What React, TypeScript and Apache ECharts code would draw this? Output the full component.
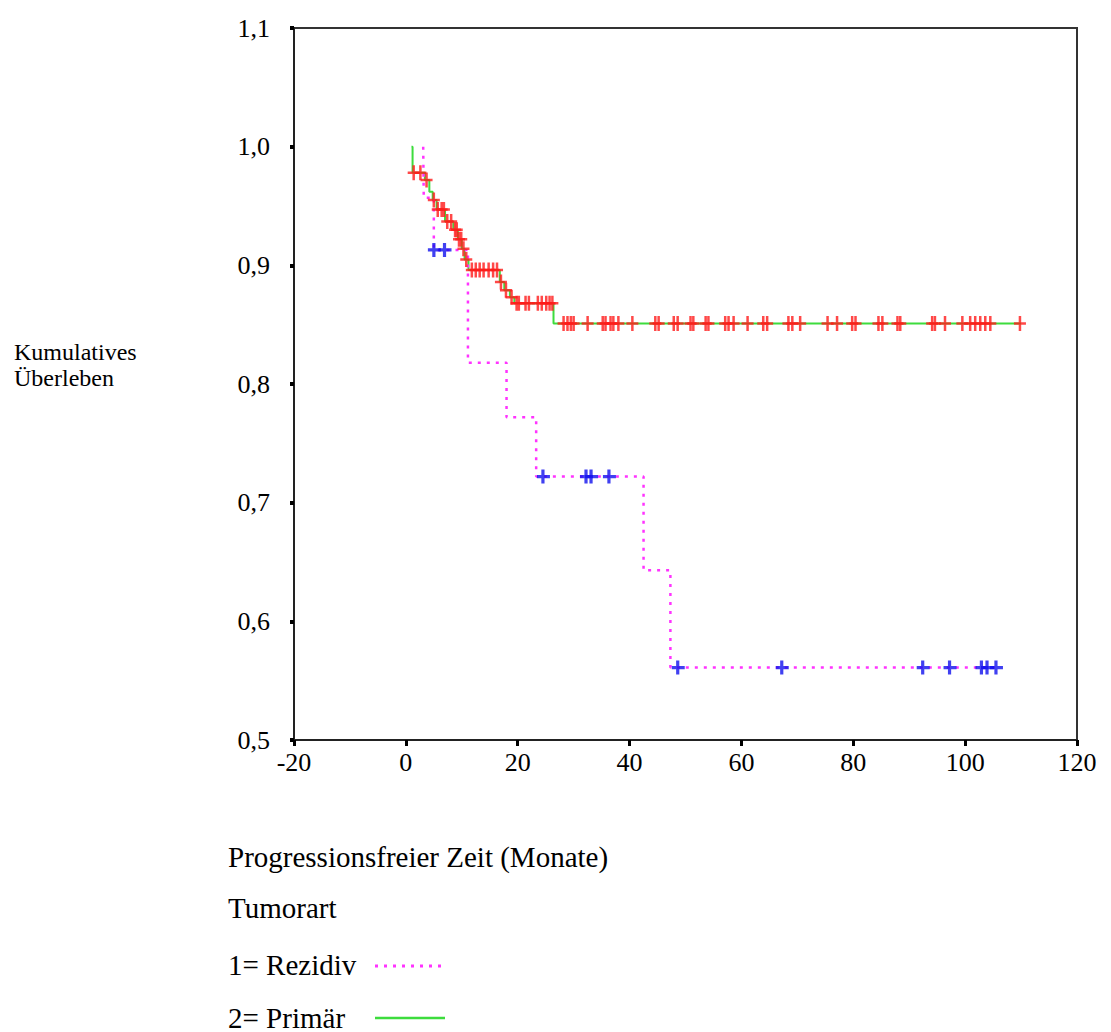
import React, { useEffect, useRef } from "react";
import * as echarts from "echarts";

// Kaplan-Meier step data
const primTimes = [1.0, 1.2, 3.4, 4.2, 4.8, 5.5, 7.0, 8.5, 9.3, 10.0, 10.5, 11.2, 16.8, 17.6, 18.6, 19.4, 26.4, 110];
const primSurv = [1.0, 0.978, 0.972, 0.962, 0.955, 0.947, 0.937, 0.93, 0.922, 0.914, 0.905, 0.896, 0.886, 0.879, 0.873, 0.868, 0.851, 0.851];
const primCensor = [
  1.4, 2.6, 3.7, 5.0, 5.7, 6.4, 6.8, 7.4, 8.1, 8.8, 9.1, 9.5, 9.9, 10.3, 10.8,
  11.8, 12.5, 13.2, 13.9, 14.8, 15.6, 16.3, 17.0, 17.9, 18.9, 19.8,
  20.2, 21.4, 22.0, 23.6, 24.3, 25.1, 25.7, 26.2,
  28.2, 28.9, 29.5, 30.0, 32.5, 35.2, 35.7, 36.6, 37.1, 38.0, 40.5, 44.6, 45.2,
  47.9, 48.6, 50.9, 51.4, 53.6, 54.1, 57.1, 57.7, 58.6, 61.1, 63.9, 64.6,
  68.4, 69.1, 70.5, 75.4, 77.1, 79.8, 80.4, 84.5, 85.2, 87.9, 88.4,
  94.1, 94.6, 96.4, 99.5, 100.9, 101.8, 102.7, 103.6, 104.5, 109.8,
];

const reziTimes = [3.1, 3.2, 5.0, 11.1, 18.0, 23.3, 42.5, 47.3, 105.6];
const reziSurv = [1.0, 0.957, 0.913, 0.818, 0.772, 0.722, 0.643, 0.561, 0.561];
const reziCensor = [5.1, 7.0, 24.6, 32.3, 33.2, 36.4, 48.7, 67.3, 92.5, 97.3, 103.0, 104.0, 105.6];

const xMin = -20;
const xMax = 120;
const xStep = 20;
const yMin = 0.5;
const yMax = 1.1;
const yStep = 0.1;

const legendLabels = ["1= Rezidiv", "2= Primär"];
const xTitle = "Progressionsfreier Zeit (Monate)";
const yTitle = "Kumulatives\nÜberleben";
const groupTitle = "Tumorart";

function stepAt(times: number[], surv: number[], t: number) {
  let v = surv[0];
  for (let i = 0; i < times.length; i++) {
    if (times[i] <= t) v = surv[i];
  }
  return v;
}

const FONT = "'Liberation Serif', 'Times New Roman', serif";
const PLUS_THIN = "path://M4.75,0H7.25V6.25H12V8.75H7.25V15H4.75V8.75H0V6.25H4.75Z";
const PLUS_BOLD = "path://M4.4,0H7.6V5.4H13V8.6H7.6V14H4.4V8.6H0V5.4H4.4Z";

export default function App() {
  const ref = useRef<HTMLDivElement>(null);
  useEffect(() => {
    if (!ref.current) return;
    const chart = echarts.init(ref.current, undefined, { renderer: "svg" });
    const primLine = primTimes.map((t, i) => [t, primSurv[i]]);
    const reziLine = reziTimes.map((t, i) => [t, reziSurv[i]]);
    const primMarks = primCensor.map((t) => [t, stepAt(primTimes, primSurv, t)]);
    const reziMarks = reziCensor.map((t) => [t, stepAt(reziTimes, reziSurv, t)]);
    const green = "#3ddc3d";
    const magenta = "#ff33ff";

    chart.setOption({
      animation: false,
      backgroundColor: "#ffffff",
      grid: {
        left: 294,
        top: 28,
        right: 34,
        bottom: 292,
        show: true,
        borderColor: "#333",
        borderWidth: 2,
      },
      xAxis: {
        type: "value",
        min: xMin,
        max: xMax,
        interval: xStep,
        splitLine: { show: false },
        axisLine: { onZero: false, lineStyle: { color: "#222", width: 2 } },
        axisTick: { length: 6, lineStyle: { color: "#000", width: 3 } },
        axisLabel: { color: "#000", fontFamily: FONT, fontSize: 26, margin: 9 },
      },
      yAxis: {
        type: "value",
        min: yMin,
        max: yMax,
        interval: yStep,
        splitLine: { show: false },
        axisLine: { onZero: false, lineStyle: { color: "#222", width: 2 } },
        axisTick: { length: 4, lineStyle: { color: "#000", width: 4 } },
        axisLabel: {
          color: "#000",
          fontFamily: FONT,
          fontSize: 26,
          margin: 24,
          formatter: (v: number) => v.toFixed(1).replace(".", ","),
        },
      },
      series: [
        {
          name: legendLabels[1],
          type: "line",
          step: "end",
          data: primLine,
          showSymbol: false,
          lineStyle: { color: green, width: 2 },
          z: 2,
        },
        {
          name: legendLabels[0],
          type: "line",
          step: "end",
          data: reziLine,
          showSymbol: false,
          lineStyle: { color: magenta, width: 2.5, type: [3, 6] },
          z: 3,
        },
        {
          name: legendLabels[1] + " zensiert",
          type: "scatter",
          data: primMarks,
          symbol: PLUS_THIN,
          symbolSize: [12, 15],
          itemStyle: { color: "#ff1a1a" },
          z: 4,
        },
        {
          name: legendLabels[0] + " zensiert",
          type: "scatter",
          data: reziMarks,
          symbol: PLUS_BOLD,
          symbolSize: [13, 14],
          itemStyle: { color: "#1010ee" },
          z: 5,
        },
      ],
      graphic: [
        {
          type: "text",
          left: 14,
          top: 339,
          style: { text: yTitle, font: `24px ${FONT}`, fill: "#000", lineHeight: 26 },
        },
        {
          type: "text",
          left: 228,
          top: 842,
          style: { text: xTitle, font: `29px ${FONT}`, fill: "#000" },
        },
        {
          type: "text",
          left: 228,
          top: 893,
          style: { text: groupTitle, font: `29px ${FONT}`, fill: "#000" },
        },
        {
          type: "text",
          left: 228,
          top: 950,
          style: { text: legendLabels[0], font: `29px ${FONT}`, fill: "#000" },
        },
        {
          type: "text",
          left: 228,
          top: 1003,
          style: { text: legendLabels[1], font: `29px ${FONT}`, fill: "#000" },
        },
        {
          type: "line",
          shape: { x1: 375, y1: 966, x2: 443, y2: 966 },
          style: { stroke: magenta, lineWidth: 3, lineDash: [3, 6] },
        },
        {
          type: "line",
          shape: { x1: 375, y1: 1018, x2: 445, y2: 1018 },
          style: { stroke: green, lineWidth: 2.5 },
        },
      ],
    });
    return () => chart.dispose();
  }, []);
  return (
    <div
      ref={ref}
      style={{ position: "absolute", left: 0, top: 0, width: 1111, height: 1032 }}
    />
  );
}
